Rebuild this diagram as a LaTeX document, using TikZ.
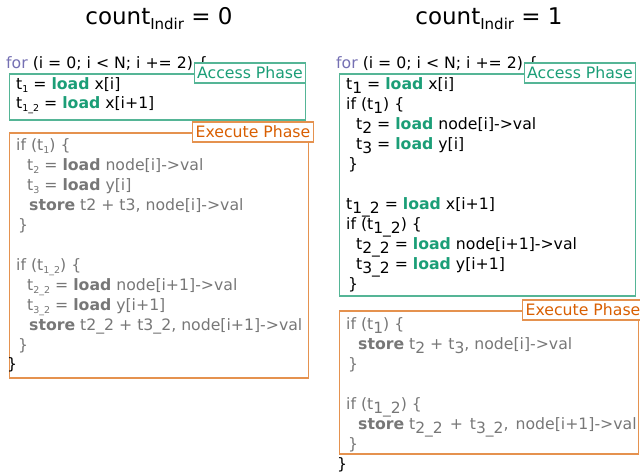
\documentclass[tikz,border=0pt]{standalone}
\usepackage{fontspec}
\setmainfont{DejaVu Sans}
\definecolor{accgreen}{HTML}{1B9E77}
\definecolor{accborder}{HTML}{55B596}
\definecolor{exeorange}{HTML}{D95F02}
\definecolor{exeborder}{HTML}{E5924F}
\definecolor{exgray}{HTML}{777777}
\definecolor{forpurple}{HTML}{7570B3}
\newcommand{\lsb}[1]{\raisebox{-0.22em}{\fontsize{9.5}{9.5}\selectfont #1}}
\newcommand{\rsb}[1]{\raisebox{-0.3em}{\fontsize{15.5}{15.5}\selectfont #1}}
\newcommand{\ld}{\textbf{\color{accgreen}load}}
\newcommand{\gld}{\textbf{load}}
\newcommand{\gst}{\textbf{store}}
\tikzset{
  code/.style={inner sep=0pt, anchor=base west, font=\fontsize{15.7}{20}\selectfont},
  gcode/.style={code, text=exgray},
  title/.style={inner sep=0pt, anchor=base, font=\fontsize{23}{28}\selectfont},
  accbox/.style={draw=accborder, line width=1.5pt, inner sep=0pt, anchor=north west},
  exebox/.style={draw=exeborder, line width=1.5pt, inner sep=0pt, anchor=north west},
  acclabel/.style={draw=accborder, fill=white, line width=1.2pt, text=accgreen, inner xsep=3pt, inner ysep=2pt, minimum height=20pt, font=\fontsize{15.7}{18}\selectfont},
  exelabel/.style={draw=exeborder, fill=white, line width=1.2pt, text=exeorange, inner xsep=3pt, inner ysep=2pt, minimum height=20pt, font=\fontsize{15.7}{18}\selectfont},
}
\begin{document}
\begin{tikzpicture}[x=1pt,y=-1pt]
\useasboundingbox (0,0) rectangle (640,474);
% titles
\node[title] (t0) at (159,24) {count\raisebox{-0.25em}{\fontsize{15}{15}\selectfont Indir} = 0};
\node[title] (t1) at (489,24) {count\raisebox{-0.25em}{\fontsize{15}{15}\selectfont Indir} = 1};

% ---------------- left ----------------
\node[accbox, minimum width=296pt, minimum height=46pt] (accL) at (8.5,73) {};
\node[exebox, minimum width=299pt, minimum height=245pt] (exeL) at (8.5,132) {};
\node[code] (forL) at (6,68.5) {{\color{forpurple}for} (i = 0; i < N; i += 2) \{};
\node[acclabel] (accLlab) at (250,73) {Access Phase};
\node[code] (aL1) at (16,89) {t\lsb{1} = \ld{} x[i]};
\node[code] (aL2) at (16,108.5) {t\lsb{1\_2} = \ld{} x[i+1]};
\node[exelabel] (exeLlab) at (253,132) {Execute Phase};
\node[gcode] (eL1) at (16,150.5) {if (t\lsb{1}) \{};
\node[gcode] (eL2) at (27,170.5) {t\lsb{2} = \gld{} node[i]->val};
\node[gcode] (eL3) at (27,190.5) {t\lsb{3} = \gld{} y[i]};
\node[gcode] (eL4) at (29,210.5) {\gst{} t2 + t3, node[i]->val};
\node[gcode] (eL5) at (18,230.5) {\}};
\node[gcode] (eL6) at (16,270.5) {if (t\lsb{1\_2}) \{};
\node[gcode] (eL7) at (27,290.5) {t\lsb{2\_2} = \gld{} node[i+1]->val};
\node[gcode] (eL8) at (27,310.5) {t\lsb{3\_2} = \gld{} y[i+1]};
\node[gcode] (eL9) at (29,330.5) {\gst{} t2\_2 + t3\_2, node[i+1]->val};
\node[gcode] (eL10) at (18,350.5) {\}};
\node[code] (endL) at (7,369.5) {\}};

% ---------------- right ----------------
\node[accbox, minimum width=296pt, minimum height=222pt] (accR) at (338.5,73) {};
\node[exebox, minimum width=299pt, minimum height=143pt] (exeR) at (338.5,310) {};
\node[code] (forR) at (336,68.5) {{\color{forpurple}for} (i = 0; i < N; i += 2) \{};
\node[acclabel] (accRlab) at (580,73) {Access Phase};
\node[code] (aR1) at (346,89) {t\rsb{1} = \ld{} x[i]};
\node[code] (aR2) at (346,109) {if (t\rsb{1}) \{};
\node[code] (aR3) at (356,129) {t\rsb{2} = \ld{} node[i]->val};
\node[code] (aR4) at (356,149) {t\rsb{3} = \ld{} y[i]};
\node[code] (aR5) at (348,169) {\}};
\node[code] (aR6) at (346,209) {t\rsb{1\_2} = \ld{} x[i+1]};
\node[code] (aR7) at (346,229) {if (t\rsb{1\_2}) \{};
\node[code] (aR8) at (356,249) {t\rsb{2\_2} = \ld{} node[i+1]->val};
\node[code] (aR9) at (356,269) {t\rsb{3\_2} = \ld{} y[i+1]};
\node[code] (aR10) at (348,289) {\}};
\node[exelabel] (exeRlab) at (583,310) {Execute Phase};
\node[gcode] (eR1) at (346,329) {if (t\rsb{1}) \{};
\node[gcode] (eR2) at (358,349) {\gst{} t\rsb{2} + t\rsb{3}, node[i]->val};
\node[gcode] (eR3) at (348,369) {\}};
\node[gcode] (eR4) at (346,409) {if (t\rsb{1\_2}) \{};
\node[gcode] (eR5) at (358,429) {\gst{} t\rsb{2\_2}\hspace{2pt} +\hspace{2pt} t\rsb{3\_2}, \hspace{2pt}node[i+1]->val};
\node[gcode] (eR6) at (348,449) {\}};
\node[code] (endR) at (337,469) {\}};
\end{tikzpicture}
\end{document}
